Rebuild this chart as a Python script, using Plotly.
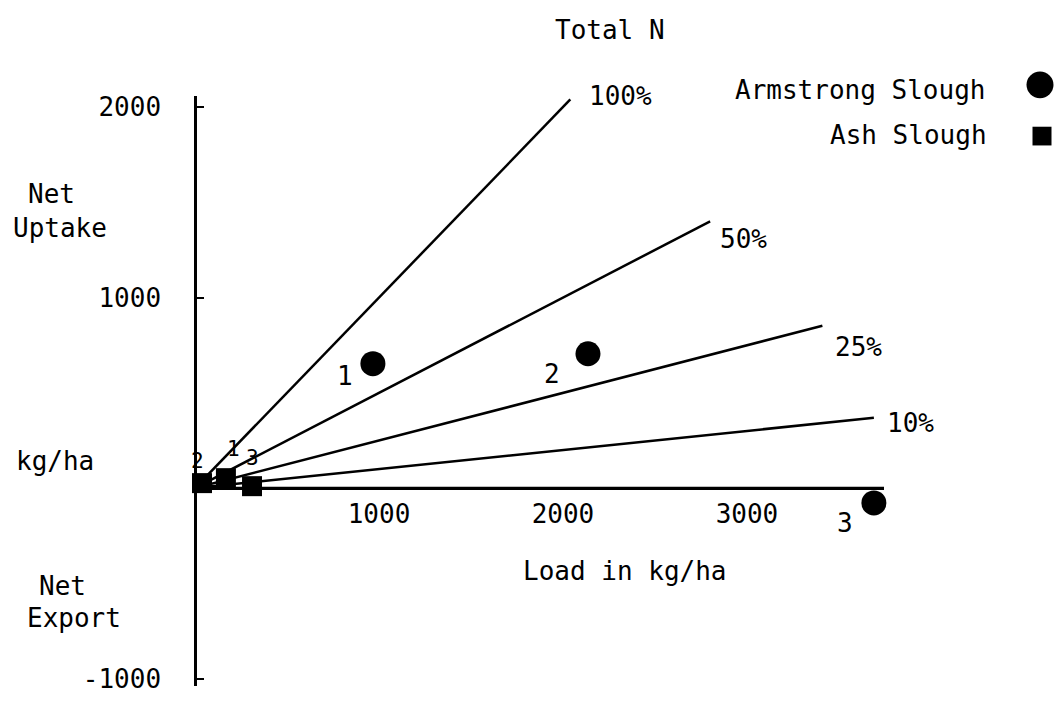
import plotly.graph_objects as go

W, H = 1057, 706
FONT = "DejaVu Sans Mono"

# ---------------- data ----------------
pct_labels = ["100%", "50%", "25%", "10%"]
pct_end_load = [2040, 2800, 3410, 3690]
pct_end_uptake = [2040, 1400, 852, 369]
x_axis_end = 3745  # the 0% line (load axis) ends here

armstrong_ids = ["1", "2", "3"]
armstrong_load = [967, 2136, 3690]
armstrong_uptake = [653, 705, -78]

ash_ids = ["1", "2", "3"]
ash_load = [168, 38, 310]
ash_uptake = [52, 26, 10]

x_tickvals = [1000, 2000, 3000]
x_ticktext = ["1000", "2000", "3000"]
y_tickvals = [2000, 1000, -1000]
y_ticktext = ["2000", "1000", "-1000"]
y_range = [-1040, 2060]

# ---------------- layout helpers ----------------
X0_PX, XEND_PX = 195, 884
Y_TOP_PX, Y_BOT_PX = 94, 693
Y0_PX = 492


def px2paper(px, py):
    return px / W, 1 - py / H


fig = go.Figure()

# percentage lines
for lbl, xl, yu in zip(pct_labels, pct_end_load, pct_end_uptake):
    fig.add_trace(go.Scatter(x=[0, xl], y=[0, yu], mode="lines",
                             line=dict(color="black", width=2.5),
                             hoverinfo="skip", showlegend=False, cliponaxis=False))

# 0% line
fig.add_trace(go.Scatter(x=[0, x_axis_end], y=[0, 0], mode="lines",
                         line=dict(color="black", width=2.5),
                         hoverinfo="skip", showlegend=False, cliponaxis=False))

fig.add_trace(go.Scatter(x=armstrong_load, y=armstrong_uptake, mode="markers",
                         name="Armstrong Slough",
                         marker=dict(symbol="circle", size=25, color="black"),
                         showlegend=False, cliponaxis=False))
fig.add_trace(go.Scatter(x=ash_load, y=ash_uptake, mode="markers",
                         name="Ash Slough",
                         marker=dict(symbol="square", size=20, color="black"),
                         showlegend=False, cliponaxis=False))

annotations = []

# percentage labels
pct_shifts = [(17, 3), (8, -18), (11, -21), (11, -5)]
for lbl, xl, yu, (dx, dy) in zip(pct_labels, pct_end_load, pct_end_uptake, pct_shifts):
    annotations.append(dict(x=xl, y=yu, xref="x", yref="y", text=lbl,
                            xanchor="left", yanchor="middle", xshift=dx, yshift=dy,
                            showarrow=False, font=dict(family=FONT, size=26, color="black")))

# point labels
arm_shifts = [(-28, -12), (-36, -20), (-29, -20)]
for lbl, xl, yu, (dx, dy) in zip(armstrong_ids, armstrong_load, armstrong_uptake, arm_shifts):
    annotations.append(dict(x=xl, y=yu, xref="x", yref="y", text=lbl,
                            xanchor="center", yanchor="middle", xshift=dx, yshift=dy,
                            showarrow=False, font=dict(family=FONT, size=26, color="black")))
ash_shifts = [(8, 29), (-4, 22), (0, 28)]
for lbl, xl, yu, (dx, dy) in zip(ash_ids, ash_load, ash_uptake, ash_shifts):
    annotations.append(dict(x=xl, y=yu, xref="x", yref="y", text=lbl,
                            xanchor="center", yanchor="middle", xshift=dx, yshift=dy,
                            showarrow=False, font=dict(family=FONT, size=21, color="black")))


def paper_text(text, px, py, xanchor="center", size=26):
    x, y = px2paper(px, py)
    annotations.append(dict(x=x, y=y, xref="paper", yref="paper", text=text,
                            xanchor=xanchor, yanchor="middle", showarrow=False,
                            font=dict(family=FONT, size=size, color="black")))


paper_text("Total N", 610, 27)
paper_text("Armstrong Slough", 987, 88, xanchor="right")
paper_text("Ash Slough", 989, 134, xanchor="right")
paper_text("Net", 51, 194)
paper_text("Uptake", 60, 228)
paper_text("kg/ha", 55, 465)
paper_text("Net", 62, 591)
paper_text("Export", 74, 624)
paper_text("Load in kg/ha", 625, 576)

# legend keys
shapes = []
cx, cy, r = 1040, 83, 13.5
x0, y1 = px2paper(cx - r, cy - r)
x1, y0 = px2paper(cx + r, cy + r)
shapes.append(dict(type="circle", xref="paper", yref="paper", x0=x0, x1=x1, y0=y0, y1=y1,
                   fillcolor="black", line=dict(width=0)))
sx, sy, h = 1042, 135, 9.5
x0, y1 = px2paper(sx - h, sy - h)
x1, y0 = px2paper(sx + h, sy + h)
shapes.append(dict(type="rect", xref="paper", yref="paper", x0=x0, x1=x1, y0=y0, y1=y1,
                   fillcolor="black", line=dict(width=0)))

fig.update_layout(
    width=W, height=H,
    margin=dict(l=0, r=0, t=0, b=0),
    paper_bgcolor="white", plot_bgcolor="white",
    font=dict(family=FONT, size=26, color="black"),
    showlegend=False,
    annotations=annotations,
    shapes=shapes,
    xaxis=dict(domain=[X0_PX / W, XEND_PX / W], range=[0, x_axis_end],
               anchor="free", position=1 - Y0_PX / H,
               showline=True, linecolor="black", linewidth=2.5,
               showgrid=False, zeroline=False, ticks="",
               tickvals=x_tickvals, ticktext=x_ticktext,
               ticklabelstandoff=2,
               tickfont=dict(family=FONT, size=26, color="black"),
               fixedrange=True),
    yaxis=dict(domain=[1 - Y_BOT_PX / H, 1 - Y_TOP_PX / H], range=y_range,
               anchor="free", position=X0_PX / W,
               showline=True, linecolor="black", linewidth=2.5,
               showgrid=False, zeroline=False,
               ticks="inside", ticklen=7, tickwidth=2, tickcolor="black",
               tickvals=y_tickvals, ticktext=y_ticktext,
               ticklabelstandoff=28,
               tickfont=dict(family=FONT, size=26, color="black"),
               fixedrange=True),
)

fig.write_html("out.html")
